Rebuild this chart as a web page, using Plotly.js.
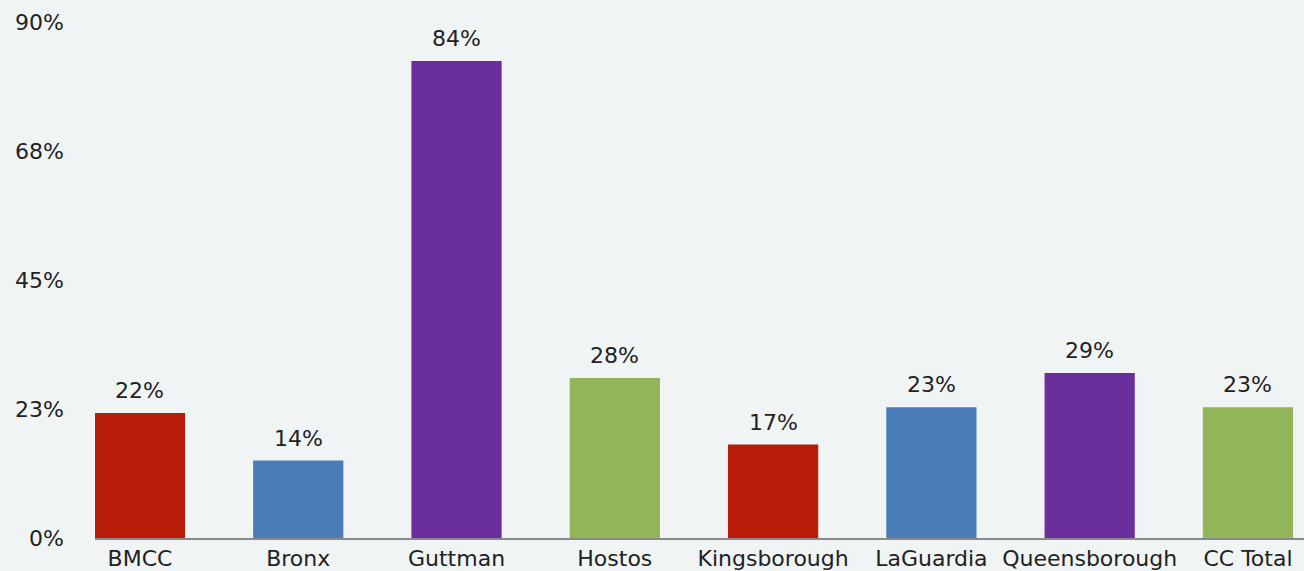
<!DOCTYPE html>
<html><head><meta charset="utf-8">
<script src="https://cdn.plot.ly/plotly-3.0.1.min.js"></script>
<style>html,body{margin:0;padding:0;background:#f1f4f4;}#chart{width:1304px;height:571px;}</style>
</head><body><div id="chart"></div>
<script>
const categories = ["BMCC","Bronx","Guttman","Hostos","Kingsborough","LaGuardia","Queensborough","CC Total"];
const values = [21.8, 13.5, 83.2, 27.9, 16.3, 22.8, 28.8, 22.8];
const valueLabels = ["22%","14%","84%","28%","17%","23%","29%","23%"];
const barColors = ["#b81d0a","#4a7db8","#6b2f9b","#93b55a","#b81d0a","#4a7db8","#6b2f9b","#93b55a"];
const tickVals = [0, 22.5, 45, 67.5, 90];
const tickLabels = ["0%","23%","45%","68%","90%"];

const font = "DejaVu Sans, Verdana, sans-serif";
const annotations = categories.map((c, i) => ({
  x: c, y: values[i], xref: "x", yref: "y",
  text: valueLabels[i], showarrow: false,
  yanchor: "bottom", yshift: 8,
  font: {family: font, size: 22, color: "#222"}
}));

Plotly.newPlot("chart", [{
  type: "bar",
  x: categories,
  y: values,
  marker: {color: barColors},
  hoverinfo: "skip"
}], {
  width: 1304, height: 571,
  paper_bgcolor: "#f1f4f4", plot_bgcolor: "#f1f4f4",
  margin: {l: 95, r: 0, t: 22, b: 33},
  bargap: 0.43,
  showlegend: false,
  annotations: annotations,
  xaxis: {
    range: [-0.284, 7.354],
    showline: true, linecolor: "#8a8a8a", linewidth: 2,
    showgrid: false, zeroline: false, ticks: "",
    tickfont: {family: font, size: 22, color: "#222"}
  },
  yaxis: {
    range: [0, 90],
    tickvals: tickVals, ticktext: tickLabels,
    showgrid: false, zeroline: false, showline: false, ticks: "",
    ticklabelstandoff: 30,
    tickfont: {family: font, size: 22, color: "#222"}
  }
}, {staticPlot: true});
</script></body></html>
